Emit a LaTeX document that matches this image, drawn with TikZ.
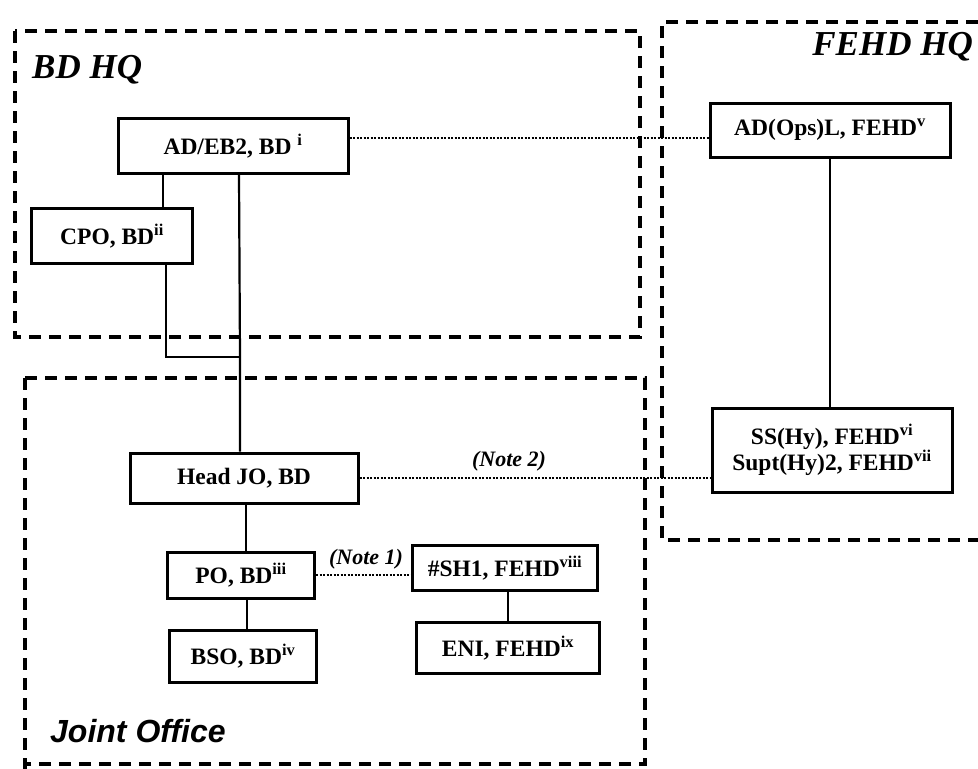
\documentclass[tikz,border=0pt]{standalone}
\usepackage{fontspec}
\setmainfont{Liberation Serif}
\newfontfamily\joffont{Liberation Sans}
\begin{document}
\begin{tikzpicture}[x=1pt,y=-1pt,
  region/.style={line width=3.2pt, dash pattern=on 12pt off 8pt},
  post/.style={draw, line width=3pt, fill=white, inner sep=2pt,
    font=\fontsize{23.5}{26}\selectfont\bfseries, align=center},
  link/.style={line width=2.2pt},
  liaison/.style={line width=1.8pt, dash pattern=on 2.2pt off 1.3pt},
  notelbl/.style={font=\fontsize{22}{24}\selectfont\bfseries\itshape, inner sep=1pt},
  title/.style={font=\fontsize{35}{38}\selectfont\bfseries\itshape, inner sep=0pt}]
\useasboundingbox (0,0) rectangle (978,769);
\fill[white] (0,0) rectangle (978,769);

% regions
\draw[region] (15,31) rectangle (640,337);
\draw[region] (978,22) -- (662,22) -- (662,540) -- (978,540);
\draw[region] (25,378) -- (645,378) -- (645,764) -- (25,764) -- (25,769);
\draw[region] (25,378) -- (25,764);

% titles
\node[title, anchor=west] (tbd) at (32,70) {BD HQ};
\node[title, anchor=east] (tfe) at (973,47) {FEHD HQ};
\node[font=\joffont\fontsize{32}{35}\selectfont\bfseries\itshape, anchor=west, inner sep=0pt] (tjo) at (50,731) {Joint Office};

% posts
\node[post, minimum width=230, minimum height=55] (adeb) at (233,146) {AD/EB2, BD \textsuperscript{i}};
\node[post, minimum width=161, minimum height=55] (cpo) at (112,236) {CPO, BD\textsuperscript{ii}};
\node[post, minimum width=240, minimum height=54] (adops) at (830,130) {AD(Ops)L, FEHD\textsuperscript{v}};
\node[post, minimum width=240, minimum height=84] (ss) at (832,450) {SS(Hy), FEHD\textsuperscript{vi}\\Supt(Hy)2, FEHD\textsuperscript{vii}};
\node[post, minimum width=228, minimum height=50] (head) at (244,478) {Head JO, BD};
\node[post, minimum width=147, minimum height=46] (po) at (241,575) {PO, BD\textsuperscript{iii}};
\node[post, minimum width=147, minimum height=52] (bso) at (243,656) {BSO, BD\textsuperscript{iv}};
\node[post, minimum width=185, minimum height=45] (sh) at (505,568) {\#SH1, FEHD\textsuperscript{viii}};
\node[post, minimum width=183, minimum height=51] (eni) at (508,648) {ENI, FEHD\textsuperscript{ix}};

% solid reporting lines
\coordinate (jn) at (240,357);
\draw[link] ([xshift=6pt]adeb.south) -- (jn) -- ([xshift=-4pt]head.north);
\draw[link] ([xshift=51pt]cpo.north) -- ([xshift=51pt]cpo.north |- adeb.south);
\draw[link] ([xshift=54pt]cpo.south) |- (jn);
\draw[link] ([xshift=5pt]po.north) -- ([xshift=5pt]po.north |- head.south);
\draw[link] ([xshift=4pt]bso.north) -- ([xshift=4pt]bso.north |- po.south);
\draw[link] (eni.north) -- (eni.north |- sh.south);
\draw[link] (adops.south) -- (adops.south |- ss.north);

% dotted liaison lines
\draw[liaison] ([yshift=8pt]adeb.east) -- ([yshift=8pt]adeb.east -| adops.west);
\draw[liaison] (head.east) -- (head.east -| ss.west);
\draw[liaison] (po.east) -- (po.east -| sh.west);
\node[notelbl] (n2) at (509,461) {(Note 2)};
\node[notelbl] (n1) at (366,559) {(Note 1)};
\end{tikzpicture}
\end{document}
